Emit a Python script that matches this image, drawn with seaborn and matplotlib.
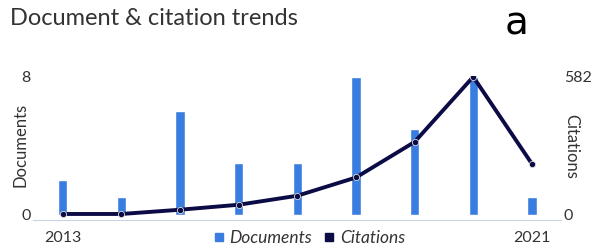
import pandas as pd
import matplotlib.pyplot as plt
import numpy as np
import seaborn as sns
from matplotlib.lines import Line2D

years = ['2013', '2014', '2015', '2016', '2017', '2018', '2019', '2020', '2021']
documents = [2, 1, 6, 3, 3, 8, 5, 8, 1]
citations = [3, 3, 21, 42, 80, 157, 307, 582, 215]

df = pd.DataFrame({'year': years, 'documents': documents, 'citations': citations})

sns.set_style('white')
plt.rcParams['font.family'] = ['Lato', 'DejaVu Sans']

bar_color = '#3a7de0'
line_color = '#0b0b45'
text_color = '#333333'

fig, ax = plt.subplots(figsize=(5.97, 2.49), dpi=100)
fig.subplots_adjust(left=0.056, right=0.94, top=0.695, bottom=0.117)

sns.barplot(data=df, x='year', y='documents', color=bar_color, width=0.16,
            saturation=1, ax=ax)
ax.set_ylim(-0.3, 8.05)
ax.set_yticks([0, 8])
ax.set_ylabel('Documents', color=text_color, fontsize=12)
ax.yaxis.set_label_coords(-0.01, 0.52)

ax2 = ax.twinx()
sns.pointplot(data=df, x='year', y='citations', color=line_color, ax=ax2,
              markers='o', markersize=4.5, linewidth=2.8,
              markeredgecolor='#dddddd', markeredgewidth=0.6)
ax2.set_ylim(-582 * 0.3 / 8, 582 * 8.05 / 8)
ax2.set_yticks([0, 582])
ax2.set_ylabel('Citations', color=text_color, fontsize=12, rotation=270)
ax2.yaxis.set_label_coords(1.034, 0.51)

ax.set_xlim(-0.5, 8.5)
ax2.set_xlim(-0.5, 8.5)
ax.set_xticks([0, 8])
ax.set_xticklabels(['2013', '2021'])
ax.set_xlabel('')
ax2.set_xlabel('')

for a in (ax, ax2):
    for s in ['top', 'left', 'right']:
        a.spines[s].set_visible(False)
    a.spines['bottom'].set_color('#c8d4e6')
    a.tick_params(length=0, labelsize=11.5, colors=text_color, pad=2)
ax2.spines['bottom'].set_visible(False)
ax.tick_params(axis='x', pad=8)

handles = [Line2D([], [], marker='s', linestyle='', color=bar_color, markersize=6),
           Line2D([], [], marker='s', linestyle='', color=line_color, markersize=6)]
ax.legend(handles, ['Documents', 'Citations'], loc='center',
          bbox_to_anchor=(0.523, -0.125), ncol=2, frameon=False, handlelength=0.6,
          handletextpad=0.3, columnspacing=0.7,
          prop={'style': 'italic', 'size': 12.5}, labelcolor=text_color)

fig.text(0.017, 0.925, 'Document & citation trends', fontsize=17, color=text_color,
         va='center', ha='left')
fig.text(0.866, 0.905, 'a', fontsize=28, color='black', va='center', ha='center',
         family='DejaVu Sans')

fig.savefig('out.png', dpi=100)
